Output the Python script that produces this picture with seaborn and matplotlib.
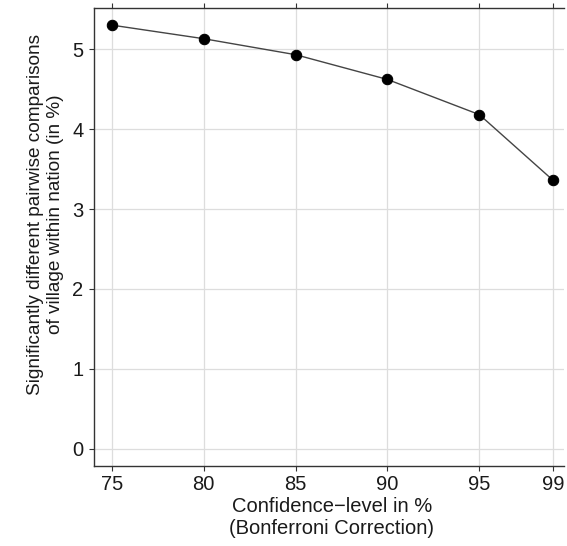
import matplotlib
matplotlib.use("Agg")
import matplotlib.pyplot as plt
import seaborn as sns
import pandas as pd

# Confidence levels (Bonferroni corrected) and share of significant comparisons
confidence_levels = [75, 80, 85, 90, 95, 99]
significant_pct = [5.30, 5.13, 4.93, 4.62, 4.18, 3.36]
x_ticks = [75, 80, 85, 90, 95, 99]
y_ticks = [0, 1, 2, 3, 4, 5]

df = pd.DataFrame({"conf": confidence_levels, "sig": significant_pct})

sns.set_theme(style="white")
plt.rcParams["font.family"] = ["Liberation Sans", "DejaVu Sans"]

fig = plt.figure(figsize=(5.67, 5.46), dpi=100)
ax = fig.add_axes([94 / 567, 1 - 465.7 / 546, (564 - 94) / 567, (465.7 - 8.3) / 546])

sns.lineplot(data=df, x="conf", y="sig", ax=ax, color="#444444", linewidth=1.0,
             marker="o", markersize=7.5, markerfacecolor="black",
             markeredgecolor="black", zorder=3)

ax.set_xlim(74.04, 99.6)
ax.set_ylim(-0.21, 5.51)
ax.set_xticks(x_ticks)
ax.set_yticks(y_ticks)
ax.grid(True, color="#dddddd", linewidth=0.9)
ax.set_axisbelow(True)

for side in ["left", "bottom", "top"]:
    ax.spines[side].set_visible(True)
    ax.spines[side].set_color("#333333")
    ax.spines[side].set_linewidth(1.0)
ax.spines["right"].set_visible(False)

ax.tick_params(axis="both", which="both", direction="out", length=3.5, width=0.8,
               color="#333333", labelsize=14.5, labelcolor="#1a1a1a",
               bottom=True, left=True, top=True, labeltop=False)
ax.tick_params(axis="x", pad=3.5)
ax.tick_params(axis="y", pad=4)

ax.set_xlabel("Confidence\u2212level in %\n(Bonferroni Correction)", fontsize=14.5,
              color="#1a1a1a", linespacing=1.2)
ax.xaxis.set_label_coords(0.506, -0.069)
ax.set_ylabel("Significantly different pairwise comparisons\nof village within nation (in %)",
              fontsize=13.7, color="#1a1a1a", linespacing=1.2)
ax.yaxis.set_label_coords(-0.064, 0.549)

fig.savefig("out.png", dpi=100)
